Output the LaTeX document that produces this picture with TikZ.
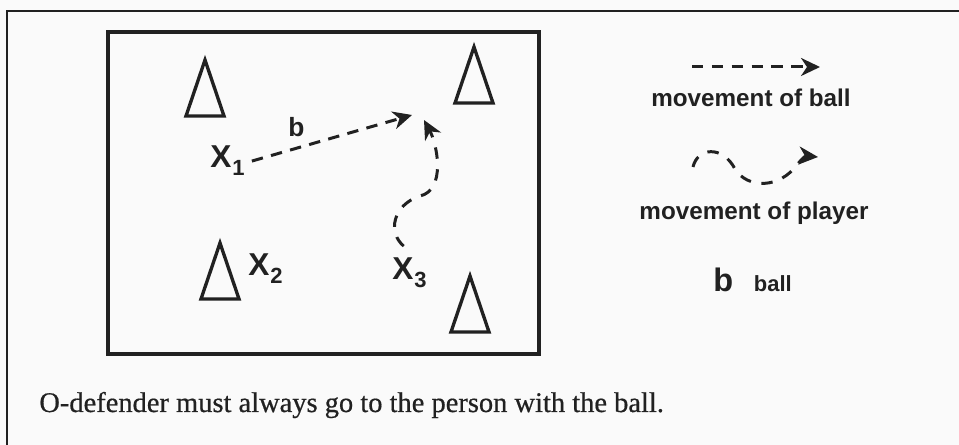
\documentclass[tikz,border=0pt]{standalone}
\usepackage{fontspec}
\setsansfont{Liberation Sans}
\newfontfamily\capfont{Liberation Serif}[FakeBold=0.6]
\usetikzlibrary{positioning, arrows.meta}

\definecolor{ink}{gray}{0.13}
% player mark with lowered index
\newcommand{\plyr}[1]{X\kern0.5pt\raisebox{-4.5pt}{\fontsize{12.5}{12.5}\selectfont #1}}

\begin{document}
\begin{tikzpicture}[every node/.style={text=ink, inner sep=0pt},
  lbl/.style={font=\fontsize{18}{18}\selectfont\sffamily\bfseries, anchor=base west, inner sep=0.14cm},
  legtext/.style={font=\fontsize{13.8}{14}\selectfont\sffamily\bfseries, anchor=base},
  cone/.style={draw=ink, line width=1.9pt},
  ballpass/.style={draw=ink, line width=1.7pt, dash pattern=on 6.5pt off 4.8pt,
    -{Stealth[length=0.38cm, width=0.36cm, inset=0.12cm]}},
  playerrun/.style={draw=ink, line width=1.7pt, dash pattern=on 6.5pt off 6pt,
    -{Stealth[length=0.38cm, width=0.36cm, inset=0.12cm]}}]
  \useasboundingbox (0,0) rectangle (19.18,8.90);
  \fill[gray!4] (0,0) rectangle (19.18,8.90);
  % page frame (left and top only)
  \draw[ink, line width=1.4pt] (0.14,0) -- (0.14,8.68) -- (19.18,8.68);
  % playing area
  \draw[ink, line width=2.4pt] (2.16,1.82) rectangle (10.78,8.26);
  % cones
  \foreach \ax/\ay in {4.10/7.70, 9.48/7.96, 4.40/4.04, 9.40/3.38}
    \draw[cone] (\ax,\ay) -- ++(-0.38,-1.12) -- ++(0.76,0) -- cycle;
  % players and ball
  \node[lbl] (x1) at (4.06,5.54) {\plyr{1}};
  \node[lbl] (x2) at (4.82,3.38) {\plyr{2}};
  \node[lbl] (x3) at (7.70,3.30) {\plyr{3}};
  \node[font=\fontsize{15}{15}\selectfont\sffamily\bfseries, anchor=base west] (ballb) at (5.76,6.16) {b};
  \coordinate (passend) at (8.24,6.60);
  \coordinate (runend) at (8.48,6.50);
  % pass from X1
  \draw[ballpass] (x1.east) -- (passend);
  % run of X3
  \draw[playerrun, shorten <=0.15cm] (x3.north) .. controls (7.75,4.25) and (7.85,4.80) .. (8.40,4.98)
    .. controls (8.92,5.10) and (8.75,6.00) .. (runend);
  % legend
  \coordinate (legpassA) at (13.84,7.56);
  \coordinate (legpassB) at (16.40,7.56);
  \draw[ballpass] (legpassA) -- (legpassB);
  \node[legtext] (legpass) at (15.02,6.76) {movement of ball};
  \coordinate (legrunA) at (13.86,5.56);
  \coordinate (legrunB) at (16.36,5.76);
  \draw[playerrun] (legrunA) .. controls (13.95,5.95) and (14.45,6.00) .. (14.70,5.52)
    .. controls (14.95,5.12) and (15.60,5.12) .. (15.95,5.62) .. controls (16.10,5.78) .. (legrunB);
  \node[legtext] (legrun) at (15.08,4.50) {movement of player};
  \node[font=\fontsize{18.5}{18.5}\selectfont\sffamily\bfseries, anchor=base west] (keyb) at (14.26,3.06) {b};
  \node[font=\fontsize{12.5}{12.5}\selectfont\sffamily\bfseries, base right=0.4cm of keyb] (keyball) {ball};
  % caption
  \node[font=\fontsize{16.2}{17}\selectfont\capfont, anchor=base west] (caption) at (0.78,0.66)
    {O-defender must always go to the person with the ball.};
\end{tikzpicture}
\end{document}
